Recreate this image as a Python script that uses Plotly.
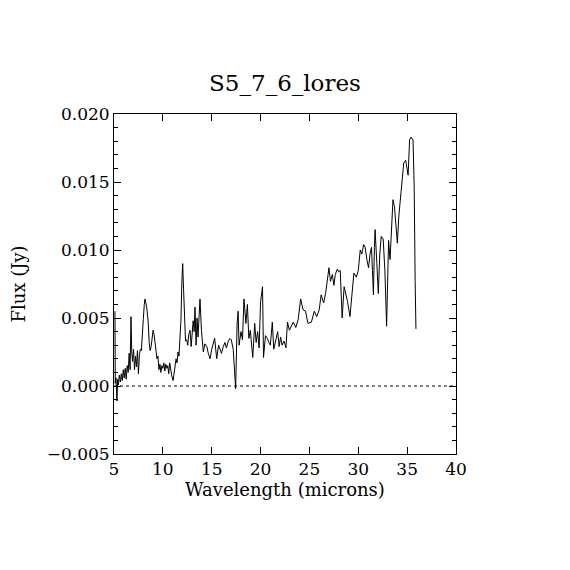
import plotly.graph_objects as go

# spectrum
wavelength = [5.10, 5.13, 5.20, 5.30, 5.38, 5.45, 5.55, 5.65, 5.75, 5.85, 5.95, 6.05, 6.15,
              6.25, 6.35, 6.45, 6.55, 6.65, 6.74, 6.82, 6.90, 7.00, 7.10, 7.20, 7.30, 7.40,
              7.50, 7.60, 7.70, 7.80, 7.90, 8.00, 8.10, 8.17, 8.35, 8.50, 8.60, 8.70, 8.80,
              8.90, 9.00, 9.10, 9.20, 9.30, 9.40, 9.50, 9.60, 9.70, 9.80, 9.90, 10.0, 10.1,
              10.2, 10.3, 10.4, 10.5, 10.6, 10.7, 10.8, 10.9, 11.05, 11.15, 11.25, 11.35,
              11.45, 11.55, 11.65, 11.75, 11.85, 11.95, 12.03, 12.12, 12.22, 12.32, 12.44,
              12.55, 12.65, 12.78, 12.90, 13.00, 13.10, 13.20, 13.29, 13.40, 13.50, 13.60,
              13.73, 13.80, 13.95, 14.14, 14.30, 14.50, 14.65, 14.83, 15.00, 15.15, 15.30,
              15.51, 15.70, 15.85, 16.00, 16.19, 16.35, 16.50, 16.70, 16.87, 17.00, 17.20,
              17.38, 17.45, 17.60, 17.70, 17.80, 18.00, 18.15, 18.30, 18.50, 18.65, 18.80,
              18.95, 19.20, 19.40, 19.55, 19.70, 19.85, 20.00, 20.20, 20.30, 20.50, 20.70,
              20.85, 21.00, 21.20, 21.35, 21.60, 21.75, 21.90, 22.05, 22.20, 22.40, 22.60,
              22.75, 22.95, 23.20, 23.35, 23.60, 23.85, 24.10, 24.35, 24.60, 24.85, 25.20,
              25.50, 25.75, 26.00, 26.20, 26.45, 26.65, 26.82, 27.00, 27.15, 27.35, 27.50,
              27.65, 27.85, 28.00, 28.15, 28.35, 28.55, 28.70, 28.90, 29.15, 29.40, 29.55,
              29.80, 30.00, 30.20, 30.35, 30.55, 30.70, 30.90, 31.05, 31.20, 31.35, 31.45,
              31.55, 31.65, 31.72, 31.90, 32.05, 32.20, 32.35, 32.55, 32.72, 32.90, 33.10,
              33.25, 33.40, 33.55, 33.70, 33.85, 34.00, 34.15, 34.30, 34.50, 34.65, 34.85,
              34.98, 35.10, 35.25, 35.40, 35.60, 35.72, 35.82, 35.90]
flux = [0.0055, 0.0002, 0.0006, -0.0011, 0.0005, 0.0001, 0.0008, 0.0003, 0.0009, 0.0004,
        0.0012, 0.0006, 0.0013, 0.0005, 0.0015, 0.0010, 0.0024, 0.0012, 0.0051, 0.0025,
        0.0018, 0.0027, 0.0012, 0.0022, 0.0014, 0.0026, 0.0009, 0.0023, 0.0027, 0.0026,
        0.0035, 0.0049, 0.0060, 0.0064, 0.0058, 0.0047, 0.0032, 0.0026, 0.0029, 0.0035,
        0.0041, 0.0038, 0.0031, 0.0025, 0.0020, 0.0022, 0.0012, 0.0016, 0.0010, 0.0015,
        0.0013, 0.0017, 0.0011, 0.0016, 0.0013, 0.0015, 0.0009, 0.0017, 0.0012, 0.0008,
        0.0004, 0.0011, 0.0014, 0.0020, 0.0017, 0.0025, 0.0022, 0.0032, 0.0048, 0.0078,
        0.0090, 0.0071, 0.0051, 0.0033, 0.0034, 0.0030, 0.0038, 0.0041, 0.0029, 0.0036,
        0.0048, 0.0040, 0.0058, 0.0030, 0.0050, 0.0036, 0.0056, 0.0064, 0.0041, 0.0025,
        0.0031, 0.0029, 0.0024, 0.0020, 0.0027, 0.0031, 0.0035, 0.0020, 0.0030, 0.0027,
        0.0024, 0.0029, 0.0032, 0.0028, 0.0033, 0.0035, 0.0034, 0.0027, 0.0007, -0.0002,
        0.0046, 0.0055, 0.0030, 0.0040, 0.0034, 0.0064, 0.0046, 0.0060, 0.0035, 0.0041,
        0.0021, 0.0046, 0.0032, 0.0040, 0.0028, 0.0062, 0.0073, 0.0021, 0.0037, 0.0035,
        0.0032, 0.0030, 0.0047, 0.0027, 0.0035, 0.0040, 0.0029, 0.0036, 0.0030, 0.0033,
        0.0028, 0.0047, 0.0041, 0.0045, 0.0047, 0.0043, 0.0049, 0.0064, 0.0056, 0.0055,
        0.0046, 0.0047, 0.0055, 0.0051, 0.0056, 0.0067, 0.0061, 0.0068, 0.0078, 0.0087,
        0.0077, 0.0082, 0.0074, 0.0082, 0.0086, 0.0084, 0.0085, 0.0050, 0.0073, 0.0069,
        0.0062, 0.0051, 0.0068, 0.0083, 0.0080, 0.0085, 0.0100, 0.0097, 0.0104, 0.0102,
        0.0092, 0.0087, 0.0097, 0.0102, 0.0085, 0.0067, 0.0102, 0.0115, 0.0090, 0.0068,
        0.0097, 0.0110, 0.0108, 0.0085, 0.0044, 0.0107, 0.0093, 0.0115, 0.0137, 0.0132,
        0.0120, 0.0105, 0.0125, 0.0137, 0.0151, 0.0164, 0.0166, 0.0158, 0.0155, 0.0181,
        0.0183, 0.0181, 0.0147, 0.0076, 0.0042]

x_ticks = [5, 10, 15, 20, 25, 30, 35, 40]
y_ticks = [-0.005, 0.000, 0.005, 0.010, 0.015, 0.020]
y_labels = ["\u22120.005", "0.000", "0.005", "0.010", "0.015", "0.020"]

font = "DejaVu Serif"

fig = go.Figure()
fig.add_trace(go.Scatter(x=wavelength, y=flux, mode="lines",
                         line=dict(color="black", width=1), showlegend=False))
fig.add_hline(y=0, line=dict(color="black", width=1, dash="dot"))

axis_common = dict(showgrid=False, zeroline=False, showline=True, linecolor="black",
                   linewidth=1, mirror="ticks", ticks="inside", tickcolor="black",
                   ticklen=7, tickwidth=1, automargin=False,
                   tickfont=dict(family=font, size=17, color="black"))

fig.update_xaxes(range=[5, 40], tickvals=x_ticks, ticktext=[str(v) for v in x_ticks],
                 title=dict(text="Wavelength (microns)", standoff=4,
                            font=dict(family=font, size=18, color="black")),
                 **axis_common)
fig.update_yaxes(range=[-0.005, 0.020], tickvals=y_ticks, ticktext=y_labels,
                 minor=dict(dtick=0.001, ticks="inside", ticklen=4, tickcolor="black"),
                 title=dict(text="Flux (Jy)", standoff=18,
                            font=dict(family=font, size=18, color="black")),
                 **axis_common)

# the page body adds an 8px margin, so the plot box is shifted back by 8px
fig.update_layout(
    width=570, height=570,
    margin=dict(l=106, r=122, t=106, b=124),
    paper_bgcolor="white", plot_bgcolor="white",
    title=dict(text="S5_7_6_lores", x=0.5, xref="paper", xanchor="center",
               y=0.868, yanchor="middle",
               font=dict(family=font, size=23, color="black")),
)

fig.write_html("out.html")
